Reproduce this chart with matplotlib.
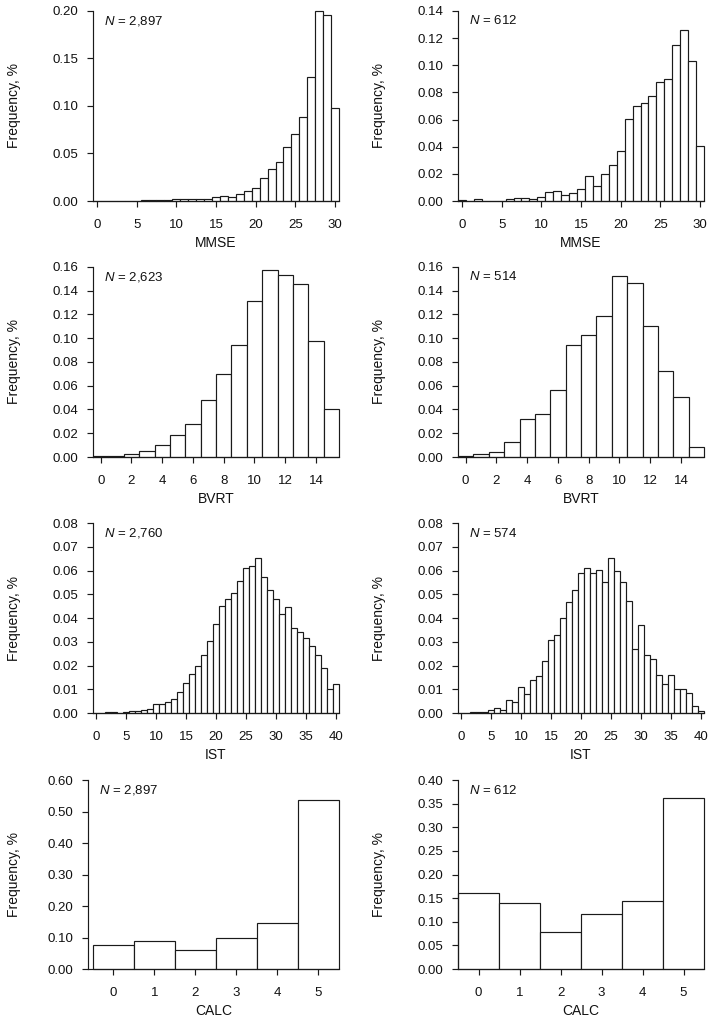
import numpy as np
import matplotlib
matplotlib.use("Agg")
import matplotlib.pyplot as plt
from matplotlib.transforms import ScaledTranslation, blended_transform_factory

plt.rcParams['font.family'] = ['Liberation Sans', 'DejaVu Sans']
plt.rcParams['mathtext.fontset'] = 'custom'
plt.rcParams['mathtext.it'] = 'Liberation Sans:italic'
plt.rcParams['mathtext.rm'] = 'Liberation Sans'

# ---------------- data ----------------
mmse_x = list(range(0, 31))
mmse_left = [0.0003, 0.0002, 0.0003, 0.0003, 0.0002, 0.0004, 0.0007, 0.0010, 0.0010, 0.0014,
             0.0018, 0.0025, 0.0025, 0.0020, 0.0020, 0.0039, 0.0056, 0.0046, 0.0074, 0.0105,
             0.0140, 0.0240, 0.0340, 0.0410, 0.0565, 0.0705, 0.0880, 0.1310, 0.2000, 0.1960,
             0.0980]
mmse_right = [0.0010, 0.0, 0.0015, 0.0, 0.0, 0.0, 0.0012, 0.0025, 0.0020, 0.0017,
              0.0032, 0.0066, 0.0076, 0.0044, 0.0061, 0.0091, 0.0182, 0.0110, 0.0196, 0.0267,
              0.0368, 0.0606, 0.0697, 0.0721, 0.0773, 0.0874, 0.0898, 0.1150, 0.1260, 0.1030,
              0.0407]

bvrt_x = list(range(0, 16))
bvrt_left = [0.0006, 0.0011, 0.0022, 0.0048, 0.0098, 0.0183, 0.0278, 0.0484, 0.0698, 0.0945,
             0.1316, 0.1572, 0.1530, 0.1457, 0.0979, 0.0402]
bvrt_right = [0.0008, 0.0022, 0.0039, 0.0127, 0.0321, 0.0360, 0.0565, 0.0942, 0.1027, 0.1190,
              0.1520, 0.1463, 0.1100, 0.0728, 0.0509, 0.0087]

ist_x = list(range(0, 41))
ist_left = [0.0002, 0.0002, 0.0003, 0.0003, 0.0002, 0.0006, 0.0010, 0.0008, 0.0014, 0.0017,
            0.0039, 0.0038, 0.0048, 0.0058, 0.0090, 0.0127, 0.0165, 0.0196, 0.0246, 0.0302,
            0.0376, 0.0449, 0.0478, 0.0504, 0.0557, 0.0609, 0.0620, 0.0653, 0.0572, 0.0518,
            0.0478, 0.0418, 0.0446, 0.0359, 0.0340, 0.0314, 0.0284, 0.0246, 0.0190, 0.0103,
            0.0121]
ist_right = [0.0, 0.0, 0.0004, 0.0004, 0.0005, 0.0014, 0.0021, 0.0014, 0.0056, 0.0046,
             0.0111, 0.0079, 0.0138, 0.0155, 0.0217, 0.0307, 0.0328, 0.0398, 0.0466, 0.0519,
             0.0588, 0.0609, 0.0588, 0.0603, 0.0551, 0.0651, 0.0597, 0.0550, 0.0473, 0.0268,
             0.0370, 0.0243, 0.0228, 0.0160, 0.0124, 0.0160, 0.0100, 0.0100, 0.0086, 0.0031,
             0.0007]

calc_x = list(range(0, 6))
calc_left = [0.075, 0.088, 0.061, 0.0995, 0.147, 0.537]
calc_right = [0.1615, 0.1396, 0.079, 0.117, 0.1439, 0.362]

n_labels = ["2,897", "612", "2,623", "514", "2,760", "574", "2,897", "612"]
x_labels = ["MMSE", "MMSE", "BVRT", "BVRT", "IST", "IST", "CALC", "CALC"]
y_label = "Frequency, %"

panels = [
    (mmse_x, mmse_left, np.arange(0, 31, 5), np.arange(0, 0.2001, 0.05), (-0.5, 30.5)),
    (mmse_x, mmse_right, np.arange(0, 31, 5), np.arange(0, 0.1401, 0.02), (-0.5, 30.5)),
    (bvrt_x, bvrt_left, np.arange(0, 15, 2), np.arange(0, 0.1601, 0.02), (-0.5, 15.5)),
    (bvrt_x, bvrt_right, np.arange(0, 15, 2), np.arange(0, 0.1601, 0.02), (-0.5, 15.5)),
    (ist_x, ist_left, np.arange(0, 41, 5), np.arange(0, 0.0801, 0.01), (-0.5, 40.5)),
    (ist_x, ist_right, np.arange(0, 41, 5), np.arange(0, 0.0801, 0.01), (-0.5, 40.5)),
    (calc_x, calc_left, np.arange(0, 6, 1), np.arange(0, 0.6001, 0.10), (-0.62, 5.5)),
    (calc_x, calc_right, np.arange(0, 6, 1), np.arange(0, 0.4001, 0.05), (-0.5, 5.5)),
]

# axes boxes in pixels: left, right, top, bottom
boxes = [
    (93, 339, 11, 201), (458, 704, 11, 201),
    (93, 339, 267, 457), (458, 704, 267, 457),
    (93, 339, 523, 713), (458, 704, 523, 713),
    (88, 339, 780, 969), (458, 704, 780, 969),
]
ylab_x = [14, 379]

W, H = 717, 1022
fig = plt.figure(figsize=(W / 100, H / 100), dpi=100)
lc = '#1a1a1a'

for i, ((xs, ys, xt, yt, xl), (l, r, t, b)) in enumerate(zip(panels, boxes)):
    ax = fig.add_axes([l / W, 1 - b / H, (r - l) / W, (b - t) / H])
    bars = ax.bar(xs, ys, width=1.0, color='white', edgecolor=lc, linewidth=0.85, align='center')
    for p in bars:
        p.set_clip_on(False)
    ax.set_xlim(*xl)
    ax.set_ylim(0, yt[-1])
    ax.set_xticks(xt)
    ax.set_xticklabels([str(v) for v in xt])
    ax.set_yticks(yt)
    ax.set_yticklabels([f"{v:.2f}" for v in yt])
    for s in ['top', 'right']:
        ax.spines[s].set_visible(False)
    for s in ['left', 'bottom']:
        ax.spines[s].set_linewidth(0.85)
        ax.spines[s].set_color(lc)
    ax.tick_params(axis='both', direction='out', length=4.3, width=0.85, color=lc,
                   labelsize=9.5, labelcolor='#111111')
    ax.tick_params(axis='x', pad=8.5)
    ax.tick_params(axis='y', pad=6.0)
    ax.set_xlabel(x_labels[i], fontsize=10, va='center', color='#111111')
    ax.xaxis.set_label_coords(0.5, 0, transform=ax.transAxes +
                              ScaledTranslation(0, -42 / 100, fig.dpi_scale_trans))
    ax.set_ylabel(y_label, fontsize=10, ha='center', va='center', color='#111111')
    ax.yaxis.set_label_coords(ylab_x[i % 2] / W, 0.5,
                              transform=blended_transform_factory(fig.transFigure, ax.transAxes))
    ax.annotate(f"$N$ = {n_labels[i]}", xy=(0, 1), xycoords='axes fraction',
                xytext=(7.8, -7.2), textcoords='offset points', ha='left', va='center',
                fontsize=9.5, color='#111111')

fig.savefig("out.png", dpi=100)
